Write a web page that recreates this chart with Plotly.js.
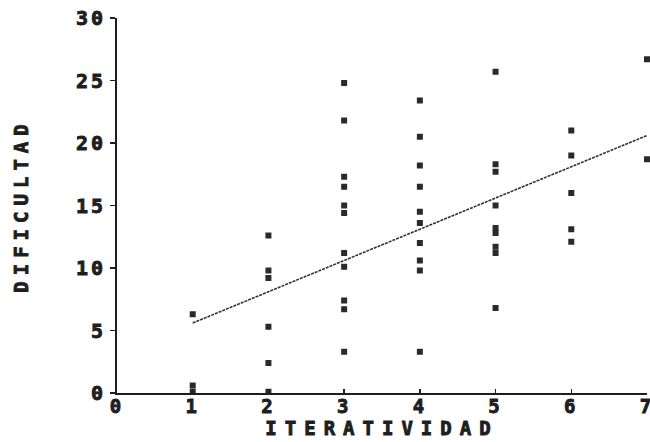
<!DOCTYPE html>
<html>
<head>
<meta charset="utf-8">
<script src="https://cdn.plot.ly/plotly-3.0.1.min.js"></script>
<style>
  html, body { margin: 0; padding: 0; background: #fff; }
  #chart { width: 650px; height: 442px; }
  .xtick text, .ytick text { letter-spacing: 3px; font-weight: 700 !important; stroke: #1e1e1e; stroke-width: 0.9px; }
  .g-xtitle text { letter-spacing: 8px; font-weight: 700 !important; stroke: #1e1e1e; stroke-width: 0.9px; }
  .g-ytitle text { letter-spacing: 6px; font-weight: 700 !important; stroke: #1e1e1e; stroke-width: 0.9px; }
</style>
</head>
<body>
<div id="chart"></div>
<script>
// Scatter data: Iteratividad (x) vs Dificultad (y)
const iteratividad = [
  1, 1, 1,
  2, 2, 2, 2, 2, 2,
  3, 3, 3, 3, 3, 3, 3, 3, 3, 3, 3,
  4, 4, 4, 4, 4, 4, 4, 4, 4, 4,
  5, 5, 5, 5, 5, 5, 5, 5, 5,
  6, 6, 6, 6, 6,
  7, 7
];
const dificultad = [
  6.3, 0.6, 0.1,
  12.6, 9.8, 9.2, 5.3, 2.4, 0.1,
  24.8, 21.8, 17.3, 16.5, 15.0, 14.4, 11.2, 10.1, 7.4, 6.7, 3.3,
  23.4, 20.5, 18.2, 16.5, 14.5, 13.6, 12.0, 10.6, 9.8, 3.3,
  25.7, 18.3, 17.7, 15.0, 13.2, 12.8, 11.7, 11.2, 6.8,
  21.0, 19.0, 16.0, 13.1, 12.1,
  26.7, 18.7
];
// Regression line endpoints
const lineX = [1, 7];
const lineY = [5.6, 20.6];

const xTicks = [0, 1, 2, 3, 4, 5, 6, 7];
const yTicks = [0, 5, 10, 15, 20, 25, 30];

const ink = '#1e1e1e';
const fam = 'DejaVu Sans Mono, monospace';

const traces = [
  {
    x: iteratividad, y: dificultad, type: 'scatter', mode: 'markers',
    marker: { symbol: 'square', size: 6, color: '#2a2a2a', line: { width: 0 } },
    cliponaxis: false, hoverinfo: 'skip'
  },
  {
    x: lineX, y: lineY, type: 'scatter', mode: 'lines',
    line: { color: '#333', width: 1.6, dash: '3px,1px' },
    hoverinfo: 'skip'
  }
];

const layout = {
  width: 650, height: 442,
  margin: { l: 117, r: 3, t: 18, b: 49 },
  paper_bgcolor: '#fff', plot_bgcolor: '#fff',
  showlegend: false,
  font: { family: fam, size: 18, color: ink, weight: 700 },
  xaxis: {
    range: [0, 7], tickvals: xTicks, ticktext: xTicks.map(String),
    showgrid: false, zeroline: false, showline: true, linecolor: ink, linewidth: 2,
    ticks: 'inside', ticklen: 4, tickwidth: 1.5, tickcolor: ink,
    ticklabeloverflow: 'allow', ticklabelstandoff: -5,
    tickfont: { family: fam, size: 19, color: ink, weight: 700 },
    title: { text: 'ITERATIVIDAD', standoff: 0,
      font: { family: fam, size: 19, color: ink, weight: 700 } }
  },
  yaxis: {
    range: [0, 30], tickvals: yTicks, ticktext: yTicks.map(String),
    showgrid: false, zeroline: false, showline: true, linecolor: ink, linewidth: 2,
    ticks: 'outside', ticklen: 5, tickwidth: 1.5, tickcolor: ink,
    ticklabeloverflow: 'allow',
    tickfont: { family: fam, size: 20, color: ink, weight: 700 },
    title: { text: 'DIFICULTAD', standoff: 42,
      font: { family: fam, size: 19, color: ink, weight: 700 } }
  }
};

Plotly.newPlot('chart', traces, layout, { staticPlot: true, displayModeBar: false });
</script>
</body>
</html>
